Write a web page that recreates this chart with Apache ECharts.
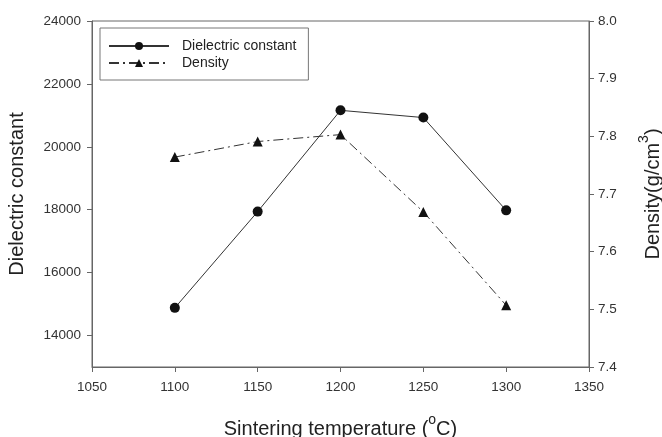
<!DOCTYPE html>
<html>
<head>
<meta charset="utf-8">
<script src="https://cdn.jsdelivr.net/npm/echarts@6/dist/echarts.min.js"></script>
<style>html,body{margin:0;padding:0;background:#fff}#c{width:662px;height:437px}</style>
</head>
<body>
<div id="c"></div>
<script>
const temperatures = [1100, 1150, 1200, 1250, 1300];
const dielectricConstant = [14880, 17940, 21160, 20930, 17980];
const density = [7.764, 7.791, 7.803, 7.669, 7.507];
const leftTicks = [14000, 16000, 18000, 20000, 22000, 24000];

const chart = echarts.init(document.getElementById('c'), null, {renderer: 'canvas'});
const axisColor = '#666';
const font = 'Liberation Sans, Arial, sans-serif';
const titleRich = {
  n: {fontFamily: font, fontSize: 20, color: '#222', lineHeight: 26, verticalAlign: 'bottom'},
  sup: {fontFamily: font, fontSize: 14, color: '#222', lineHeight: 10, verticalAlign: 'top'}
};
chart.setOption({
  backgroundColor: '#fff',
  animation: false,
  grid: {left: 92, right: 73, top: 21, bottom: 70, outerBoundsMode: 'none', containLabel: false,
    show: true, borderColor: axisColor, borderWidth: 1, backgroundColor: 'transparent'},
  legend: {
    left: 100, top: 28, orient: 'vertical',
    itemWidth: 60, itemHeight: 10, itemGap: 3,
    padding: [11, 12, 10, 8],
    borderColor: '#777', borderWidth: 1,
    textStyle: {fontFamily: font, fontSize: 14, color: '#222', padding: [0, 0, 0, 8]},
    data: ['Dielectric constant', 'Density']
  },
  xAxis: {
    type: 'value', min: 1050, max: 1350, interval: 50,
    name: '{n|Sintering temperature (}{sup|o}{n|C)}', nameLocation: 'middle', nameGap: 46,
    nameTextStyle: {fontFamily: font, fontSize: 20, color: '#222', rich: titleRich},
    axisLine: {lineStyle: {color: axisColor}},
    axisTick: {inside: false, length: 5, lineStyle: {color: axisColor}},
    axisLabel: {fontFamily: font, fontSize: 13.5, color: '#333', margin: 13, formatter: v => String(v)},
    splitLine: {show: false}
  },
  yAxis: [{
    type: 'value', min: 13000, max: 24000, position: 'left',
    name: 'Dielectric constant', nameLocation: 'middle', nameGap: 65, nameRotate: 90,
    nameTextStyle: {fontFamily: font, fontSize: 20, color: '#222'},
    axisLine: {show: true, lineStyle: {color: axisColor}},
    axisTick: {show: true, length: 5, customValues: leftTicks, lineStyle: {color: axisColor}},
    axisLabel: {fontFamily: font, fontSize: 13.5, color: '#333', margin: 11, customValues: leftTicks, formatter: v => String(v)},
    splitLine: {show: false}
  }, {
    type: 'value', min: 7.4, max: 8.0, interval: 0.1, position: 'right',
    name: '{n|Density(g/cm}{sup|3}{n|)}', nameLocation: 'middle', nameGap: 48, nameRotate: 90,
    nameTextStyle: {fontFamily: font, fontSize: 20, color: '#222', rich: titleRich},
    axisLine: {show: true, lineStyle: {color: axisColor}},
    axisTick: {show: true, length: 5, lineStyle: {color: axisColor}},
    axisLabel: {fontFamily: font, fontSize: 13.5, color: '#333', margin: 9,
      formatter: v => v.toFixed(1)},
    splitLine: {show: false}
  }],
  series: [{
    name: 'Dielectric constant', type: 'line', yAxisIndex: 0,
    data: temperatures.map((t, i) => [t, dielectricConstant[i]]),
    symbol: 'circle', symbolSize: 10,
    itemStyle: {color: '#111'},
    lineStyle: {color: '#333', width: 1}
  }, {
    name: 'Density', type: 'line', yAxisIndex: 1,
    data: temperatures.map((t, i) => [t, density[i]]),
    symbol: 'triangle', symbolSize: 10,
    itemStyle: {color: '#111'},
    lineStyle: {color: '#333', width: 1, type: [10, 4, 2, 4]}
  }]
});
</script>
</body>
</html>
